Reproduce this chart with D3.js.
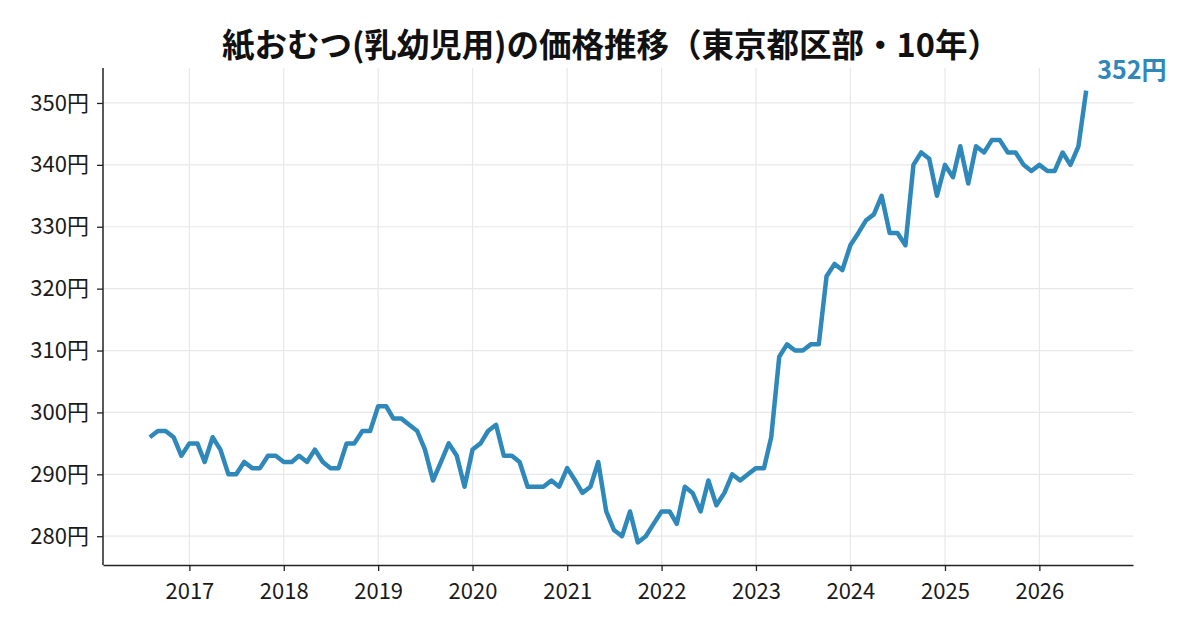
<!DOCTYPE html>
<html>
<head>
<meta charset="utf-8">
<script src="https://cdn.jsdelivr.net/npm/d3@7"></script>
<style>
  body { margin: 0; background: #fff; }
  svg { display: block; font-family: "Noto Sans CJK JP", "Noto Sans", sans-serif; }
</style>
</head>
<body>
<svg id="chart" width="1200" height="630"></svg>
<script>
// monthly price, 2016-08 .. 2026-07
const startMonth = "2016-08";
const prices = [
  296, 297, 297, 296, 293,
  295, 295, 292, 296, 294, 290, 290, 292, 291, 291, 293, 293,
  292, 292, 293, 292, 294, 292, 291, 291, 295, 295, 297, 297,
  301, 301, 299, 299, 298, 297, 294, 289, 292, 295, 293, 288,
  294, 295, 297, 298, 293, 293, 292, 288, 288, 288, 289, 288,
  291, 289, 287, 288, 292, 284, 281, 280, 284, 279, 280, 282,
  284, 284, 282, 288, 287, 284, 289, 285, 287, 290, 289, 290,
  291, 291, 296, 309, 311, 310, 310, 311, 311, 322, 324, 323,
  327, 329, 331, 332, 335, 329, 329, 327, 340, 342, 341, 335,
  340, 338, 343, 337, 343, 342, 344, 344, 342, 342, 340, 339,
  340, 339, 339, 342, 340, 343, 352
];
const yTicks = [280, 290, 300, 310, 320, 330, 340, 350];
const xTickYears = [2017, 2018, 2019, 2020, 2021, 2022, 2023, 2024, 2025, 2026];
const title = "紙おむつ(乳幼児用)の価格推移（東京都区部・10年）";
const lineColor = "#2e88ba";

const margin = { top: 68, right: 67, bottom: 65, left: 103 };
const width = 1200 - margin.left - margin.right;
const height = 630 - margin.top - margin.bottom;

const parse = d3.timeParse("%Y-%m");
const t0 = parse(startMonth);
const data = prices.map((v, i) => ({ date: d3.timeMonth.offset(t0, i), value: v }));

const svg = d3.select("#chart");
const g = svg.append("g").attr("transform", `translate(${margin.left},${margin.top})`);

// 5% padding like the original
const [dMin, dMax] = d3.extent(data, d => d.date);
const span = dMax - dMin;
const x = d3.scaleTime()
  .domain([new Date(+dMin - span * 0.05), new Date(+dMax + span * 0.05)])
  .range([0, width]);

const [vMin, vMax] = d3.extent(data, d => d.value);
const vPad = (vMax - vMin) * 0.05;
const y = d3.scaleLinear()
  .domain([vMin - vPad, vMax + vPad])
  .range([height, 0]);

const xTicks = xTickYears.map(yr => new Date(yr, 0, 1));

// grid
g.append("g")
  .selectAll("line.gx")
  .data(xTicks)
  .join("line")
  .attr("x1", d => x(d)).attr("x2", d => x(d))
  .attr("y1", 0).attr("y2", height)
  .attr("stroke", "#e8e8e8").attr("stroke-width", 1.2);

g.append("g")
  .selectAll("line.gy")
  .data(yTicks)
  .join("line")
  .attr("x1", 0).attr("x2", width)
  .attr("y1", d => y(d)).attr("y2", d => y(d))
  .attr("stroke", "#e8e8e8").attr("stroke-width", 1.2);

// axes
const xAxis = g.append("g")
  .attr("transform", `translate(0,${height})`)
  .call(d3.axisBottom(x).tickValues(xTicks).tickFormat(d3.timeFormat("%Y")).tickSize(6).tickPadding(12).tickSizeOuter(0));

const yAxis = g.append("g")
  .call(d3.axisLeft(y).tickValues(yTicks).tickFormat(d => d + "円").tickSize(6).tickPadding(8).tickSizeOuter(0));

[xAxis, yAxis].forEach(a => {
  a.selectAll(".domain").attr("stroke", "#222").attr("stroke-width", 1.5);
  a.selectAll(".tick line").attr("stroke", "#222").attr("stroke-width", 1.3);
  a.selectAll(".tick text")
    .attr("fill", "#1a1a1a")
    .style("font-size", "22px")
    .style("font-family", "'Noto Sans CJK JP', sans-serif");
});
// left spine full height
yAxis.select(".domain").attr("d", `M0,0V${height}`);

// line
g.append("path")
  .datum(data)
  .attr("fill", "none")
  .attr("stroke", lineColor)
  .attr("stroke-width", 4.5)
  .attr("stroke-linejoin", "round")
  .attr("stroke-linecap", "butt")
  .attr("d", d3.line().x(d => x(d.date)).y(d => y(d.value)));

// end label
const last = data[data.length - 1];
g.append("text")
  .attr("x", x(last.date) + 11)
  .attr("y", y(last.value) - 12)
  .attr("fill", lineColor)
  .style("font-size", "25px")
  .style("font-weight", "bold")
  .text(last.value + "円");

// title
svg.append("text")
  .attr("x", 611)
  .attr("y", 57)
  .attr("text-anchor", "middle")
  .attr("fill", "#111")
  .style("font-size", "32.5px")
  .style("font-weight", "bold")
  .text(title);
</script>
</body>
</html>
